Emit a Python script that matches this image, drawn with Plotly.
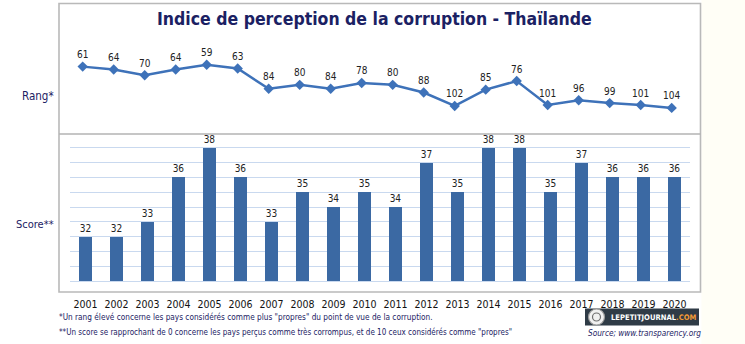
import plotly.graph_objects as go

# Corruption Perceptions Index – Thailand, 2001-2020
years = list(range(2001, 2021))
rang = [61, 64, 70, 64, 59, 63, 84, 80, 84, 78, 80, 88, 102, 85, 76, 101, 96, 99, 101, 104]
score = [32, 32, 33, 36, 38, 36, 33, 35, 34, 35, 34, 37, 35, 38, 38, 35, 37, 36, 36, 36]

W, H = 745, 344
NAVY = "#1b2163"
FONT = "Liberation Sans Narrow, Arial Narrow, DejaVu Sans Condensed, Roboto, sans-serif"


def px(x):
    return x / W


def py(y):
    return 1 - y / H


fig = go.Figure()

# Score: bars on the lower panel
fig.add_trace(go.Bar(
    x=years, y=score, xaxis="x", yaxis="y",
    width=0.42, marker=dict(color="#3b69a3", line=dict(width=0)),
    text=score, textposition="outside", cliponaxis=False,
    textfont=dict(family=FONT, size=10, color="#222222"),
    hoverinfo="x+y",
))

# Rank: line on the upper panel (reversed axis, lower rank drawn higher)
fig.add_trace(go.Scatter(
    x=years, y=rang, xaxis="x2", yaxis="y2",
    mode="lines+markers+text",
    line=dict(color="#3e72b9", width=2.5),
    marker=dict(symbol="diamond", size=8, color="#3e72b9"),
    text=rang, textposition="top center", cliponaxis=False,
    textfont=dict(family=FONT, size=10, color="#222222"),
    hoverinfo="x+y",
))

shapes = [
    # light background strip on the right edge
    dict(type="rect", xref="paper", yref="paper", x0=px(701.5), x1=1, y0=0, y1=1,
         fillcolor="#fffef6", line=dict(width=0), layer="below"),
    # chart frame and panel divider
    dict(type="rect", xref="paper", yref="paper", x0=px(59), x1=px(700.5), y0=py(292), y1=py(3.5),
         line=dict(color="#b9b9b9", width=1.6), fillcolor="rgba(0,0,0,0)", layer="below"),
    dict(type="line", xref="paper", yref="paper", x0=px(59), x1=px(700.5), y0=py(134), y1=py(134),
         line=dict(color="#b3b3b3", width=1.6)),
    # logo badge
    dict(type="rect", xref="paper", yref="paper", x0=px(585), x1=px(699), y0=py(325.5), y1=py(308.5),
         fillcolor="#2f3b46", line=dict(width=0)),
    dict(type="circle", xref="paper", yref="paper", x0=px(588.5), x1=px(604.5), y0=py(325), y1=py(309),
         fillcolor="#f1f1f1", line=dict(color="#9a9a9a", width=1.2)),
    dict(type="circle", xref="paper", yref="paper", x0=px(592.5), x1=px(600.5), y0=py(321), y1=py(313),
         fillcolor="rgba(0,0,0,0)", line=dict(color="#6f6f6f", width=1.2)),
]

annotations = [
    dict(text="<b>Indice de perception de la corruption - Thaïlande</b>",
         x=px(374), y=py(19), xref="paper", yref="paper", showarrow=False,
         xanchor="center", yanchor="middle",
         font=dict(family=FONT, size=17.5, color=NAVY)),
    dict(text="Rang*", x=px(38), y=py(96), xref="paper", yref="paper", showarrow=False,
         xanchor="center", yanchor="middle", font=dict(family=FONT, size=11.5, color=NAVY)),
    dict(text="Score**", x=px(35), y=py(224), xref="paper", yref="paper", showarrow=False,
         xanchor="center", yanchor="middle", font=dict(family=FONT, size=11, color=NAVY)),
    dict(text='*Un rang élevé concerne les pays considérés comme plus "propres" du point de vue de la corruption.',
         x=px(57), y=py(316.5), xref="paper", yref="paper", showarrow=False,
         xanchor="left", yanchor="middle", font=dict(family=FONT, size=8.2, color=NAVY)),
    dict(text='**Un score se rapprochant de 0 concerne les pays perçus comme très corrompus, et de 10 ceux considérés comme "propres"',
         x=px(57), y=py(332), xref="paper", yref="paper", showarrow=False,
         xanchor="left", yanchor="middle", font=dict(family=FONT, size=8, color=NAVY)),
    dict(text="<b>LEPETITJOURNAL<span style='color:#f39a35'>.COM</span></b>",
         x=px(653), y=py(317.5), xref="paper", yref="paper", showarrow=False,
         xanchor="center", yanchor="middle", font=dict(family=FONT, size=7.6, color="#ffffff")),
    dict(text="<i>Source; www.transparency.org</i>",
         x=px(644), y=py(333), xref="paper", yref="paper", showarrow=False,
         xanchor="center", yanchor="middle", font=dict(family=FONT, size=8.2, color=NAVY)),
]

fig.update_layout(
    width=W, height=H,
    margin=dict(l=0, r=0, t=0, b=0),
    paper_bgcolor="#ffffff", plot_bgcolor="rgba(0,0,0,0)",
    showlegend=False,
    bargap=0,
    xaxis=dict(domain=[px(70), px(690)], range=[2000.5, 2020.5], anchor="y",
               tickmode="array", tickvals=years, ticktext=[str(y) for y in years],
               ticks="", showgrid=False, zeroline=False,
               showline=True, linecolor="#c9d9ef", linewidth=1,
               tickfont=dict(family=FONT, size=10.5, color="#111111"),
               ticklabelstandoff=13, fixedrange=True),
    yaxis=dict(domain=[py(281), py(281 - 9.6 * 14.78)], range=[29, 38.6], anchor="x",
               dtick=1, tick0=29, showgrid=True, gridcolor="#c9d9ef", gridwidth=1,
               showticklabels=False, zeroline=False, showline=False, fixedrange=True),
    xaxis2=dict(domain=[px(67.2), px(687.2)], range=[2000.5, 2020.5], anchor="y2",
                showticklabels=False, showgrid=False, zeroline=False, showline=False,
                fixedrange=True),
    yaxis2=dict(domain=[py(130), py(30)], range=[127.02, 22.85], anchor="x2",
                showticklabels=False, showgrid=False, zeroline=False, showline=False,
                fixedrange=True),
    shapes=shapes,
    annotations=annotations,
)

fig.write_html("out.html")
